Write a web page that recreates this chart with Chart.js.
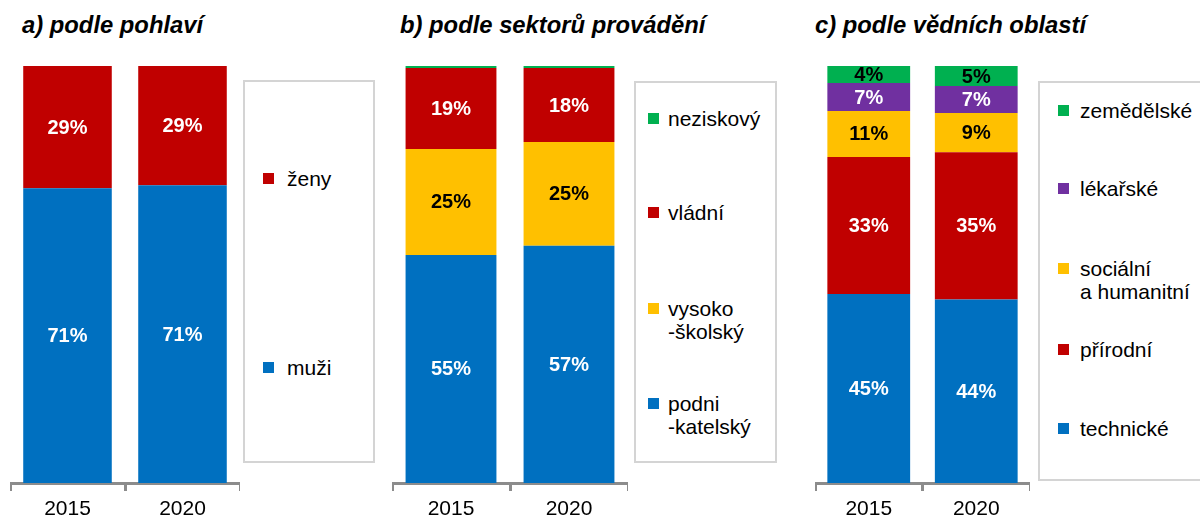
<!DOCTYPE html>
<html><head><meta charset="utf-8">
<script src="https://cdn.jsdelivr.net/npm/chart.js@4"></script>
<style>
html,body{margin:0;padding:0;background:#fff;width:1200px;height:518px;overflow:hidden;font-family:"Liberation Sans",Arial,sans-serif;}
.title{position:absolute;top:11px;font-weight:bold;font-style:italic;font-size:23.8px;color:#000;white-space:nowrap;}
.cv{position:absolute;}
.legend{position:absolute;border:2px solid #d4d4d4;box-sizing:border-box;background:#fff;}
.item{position:absolute;font-size:21px;line-height:23px;color:#000;white-space:nowrap;}
.mk{position:absolute;width:11px;height:11px;}
</style></head><body>
<script>
// ---- data ----
const years = ['2015', '2020'];
const titles = ['a) podle pohlaví', 'b) podle sektorů provádění', 'c) podle vědních oblastí'];

// a) by sex
const sexLabels = ['muži', 'ženy'];
const sexMen = [70.7, 71.4];
const sexWomen = [29.3, 28.6];

// b) by sector of performance
const sectorLabels = ['podni\n-katelský', 'vysoko\n-školský', 'vládní', 'neziskový'];
const sectorBusiness = [54.7, 56.9];
const sectorHigherEd = [25.4, 24.9];
const sectorGov = [19.4, 17.7];
const sectorNonprofit = [0.5, 0.5];

// c) by field of science
const fieldLabels = ['technické', 'přírodní', 'sociální\na humanitní', 'lékařské', 'zemědělské'];
const fieldTech = [45.3, 44.0];
const fieldNatural = [32.9, 35.3];
const fieldSocial = [11.0, 9.4];
const fieldMedical = [6.7, 6.5];
const fieldAgri = [4.1, 4.8];

const C = {blue:'#0070c0', red:'#c00000', yellow:'#ffc000', green:'#00b050', purple:'#7030a0'};

const panels = [
  {title: titles[0], titleX: 22, canvas:{left:10, width:230}, bar:0.77,
   legendBox:{left:243, top:80, width:132, height:383},
   legendItems:[{i:1, y:167, mx:263, tx:287}, {i:0, y:356, mx:263, tx:287}],
   labels: sexLabels,
   sets:[{data:sexMen, color:C.blue, txt:'#fff'}, {data:sexWomen, color:C.red, txt:'#fff'}]},
  {title: titles[1], titleX: 400, canvas:{left:392, width:236}, bar:0.77,
   legendBox:{left:634, top:81, width:143, height:382},
   legendItems:[{i:3, y:107, mx:648, tx:668}, {i:2, y:201, mx:648, tx:668}, {i:1, y:297, mx:648, tx:668}, {i:0, y:392, mx:648, tx:668}],
   labels: sectorLabels,
   sets:[{data:sectorBusiness, color:C.blue, txt:'#fff'}, {data:sectorHigherEd, color:C.yellow, txt:'#000'},
         {data:sectorGov, color:C.red, txt:'#fff'}, {data:sectorNonprofit, color:C.green, txt:null}]},
  {title: titles[2], titleX: 815, canvas:{left:815, width:215}, bar:0.77,
   legendBox:{left:1038, top:81, width:170, height:400},
   legendItems:[{i:4, y:99, mx:1058, tx:1080}, {i:3, y:177, mx:1058, tx:1080}, {i:2, y:257, mx:1058, tx:1080}, {i:1, y:338, mx:1058, tx:1080}, {i:0, y:417, mx:1058, tx:1080}],
   labels: fieldLabels,
   sets:[{data:fieldTech, color:C.blue, txt:'#fff'}, {data:fieldNatural, color:C.red, txt:'#fff'},
         {data:fieldSocial, color:C.yellow, txt:'#000'}, {data:fieldMedical, color:C.purple, txt:'#fff'},
         {data:fieldAgri, color:C.green, txt:'#000'}]}
];

const valueLabels = {
  id:'valueLabels',
  afterDatasetsDraw(chart){
    const ctx = chart.ctx;
    ctx.save();
    ctx.font = 'bold 20px "Liberation Sans", Arial, sans-serif';
    ctx.textAlign = 'center';
    ctx.textBaseline = 'middle';
    chart.data.datasets.forEach((ds, di) => {
      if (!ds.txtColor) return;
      const meta = chart.getDatasetMeta(di);
      meta.data.forEach((bar, j) => {
        const v = ds.data[j];
        ctx.fillStyle = ds.txtColor;
        ctx.fillText(Math.round(v) + '%', bar.x, (bar.y + bar.base) / 2 + 1);
      });
    });
    ctx.restore();
  }
};

const TOP = 66, H = 452;
panels.forEach(p => {
  const t = document.createElement('div');
  t.className = 'title'; t.style.left = p.titleX + 'px'; t.textContent = p.title;
  document.body.appendChild(t);

  const lb = document.createElement('div');
  lb.className = 'legend';
  Object.assign(lb.style, {left:p.legendBox.left+'px', top:p.legendBox.top+'px', width:p.legendBox.width+'px', height:p.legendBox.height+'px'});
  document.body.appendChild(lb);
  p.legendItems.forEach(it => {
    const m = document.createElement('div');
    m.className = 'mk';
    m.style.left = it.mx + 'px'; m.style.top = (it.y + 6) + 'px';
    m.style.background = p.sets[it.i].color;
    document.body.appendChild(m);
    const tx = document.createElement('div');
    tx.className = 'item';
    tx.style.left = it.tx + 'px'; tx.style.top = it.y + 'px';
    tx.innerText = p.labels[it.i];
    document.body.appendChild(tx);
  });

  const cv = document.createElement('canvas');
  cv.className = 'cv';
  cv.width = p.canvas.width; cv.height = H;
  cv.style.left = p.canvas.left + 'px'; cv.style.top = TOP + 'px';
  document.body.appendChild(cv);

  new Chart(cv.getContext('2d'), {
    type:'bar',
    data:{labels: years, datasets: p.sets.map((s, k) => ({
      label: p.labels[k], data: s.data, backgroundColor: s.color, txtColor: s.txt,
      borderWidth: 0, barPercentage: p.bar, categoryPercentage: 1
    }))},
    options:{
      responsive:false, animation:false,
      layout:{padding:{left:0, right:0, top:0, bottom:0}},
      plugins:{legend:{display:false}, tooltip:{enabled:false}},
      scales:{
        x:{stacked:true, offset:true,
           grid:{display:true, offset:true, drawOnChartArea:false, drawTicks:true, tickLength:8, color:'#8c8c8c', lineWidth:3},
           border:{display:true, color:'#8c8c8c', width:3},
           ticks:{color:'#000', font:{size:21, family:'"Liberation Sans", Arial, sans-serif'}, padding:6, maxRotation:0},
           afterFit(s){ s.height = 35; }},
        y:{stacked:true, display:false, min:0, max:100}
      }
    },
    plugins:[valueLabels]
  });
});
</script>
</body></html>
